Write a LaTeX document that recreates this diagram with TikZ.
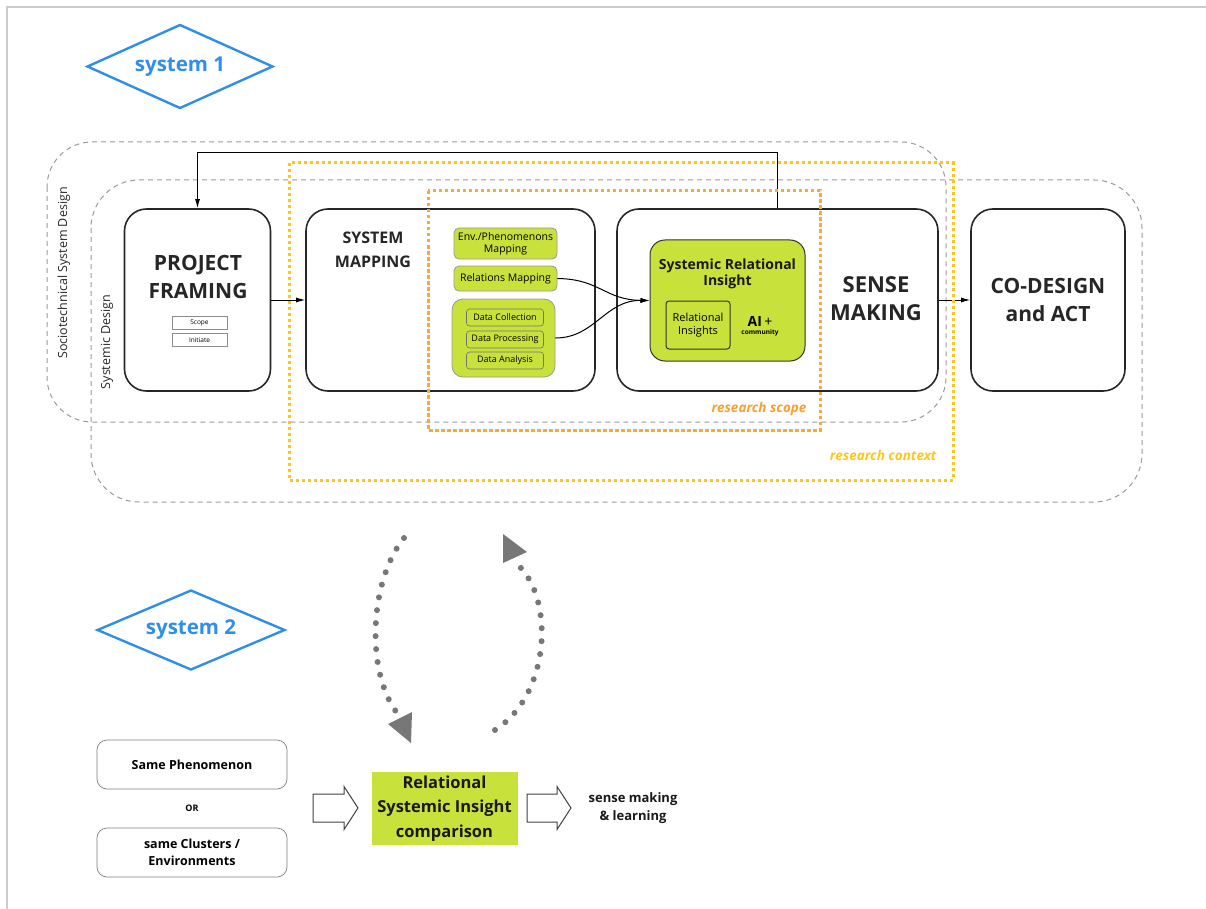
\documentclass[tikz,border=0pt]{standalone}
\usepackage{fontspec}
\setmainfont{Open Sans}
\usetikzlibrary{arrows.meta,shapes.geometric}
\definecolor{lime}{HTML}{C9E13B}
\definecolor{dgray}{HTML}{9A9A9A}
\definecolor{orng}{HTML}{F7A030}
\definecolor{orngl}{HTML}{FBA83A}
\definecolor{yel}{HTML}{FFC61A}
\definecolor{sblue}{HTML}{2F8FE8}
\definecolor{dotg}{HTML}{777777}
\definecolor{frame}{HTML}{CCCCCC}
\newcommand{\fs}[2]{\fontsize{#1}{#2}\selectfont}
\tikzset{
  mainbox/.style={draw=black!85, line width=1.6pt, rounded corners=22pt, fill=white, inner sep=0pt},
  bigtxt/.style={font=\bfseries\fs{21}{28}, align=center, text=black!85},
  smallbox/.style={draw=black!45, line width=0.6pt, inner sep=0pt, font=\fs{6.5}{7}},
  gbox/.style={draw=black!40, fill=lime, line width=0.8pt, rounded corners=5pt, inner sep=0pt, align=center, font=\fs{10.5}{12}},
  dbox/.style={draw=black!55, line width=0.6pt, rounded corners=3pt, inner sep=0pt, font=\fs{9}{10}},
  gdash/.style={draw=dgray, line width=1pt, dash pattern=on 5pt off 4pt},
  conn/.style={draw=black, line width=1pt, -{Latex[length=9pt,width=5pt]}},
  sysdiam/.style={diamond, draw=sblue, line width=2.4pt, aspect=2.2, inner sep=0pt, text=sblue, font=\bfseries\fs{20.5}{22}},
  optbox/.style={draw=black!50, line width=0.7pt, rounded corners=10pt, minimum width=190pt, minimum height=49pt, align=center, font=\bfseries\fs{12.5}{17}},
  hollow/.style={draw=black!75, line width=1pt, fill=white},
  cyc/.style={draw=dotg, line width=6pt, line cap=round, dash pattern=on 0pt off 13pt},
}
\begin{document}
\begin{tikzpicture}[x=1pt,y=-1pt]
\useasboundingbox (0,0) rectangle (1206,909);
% frame
\draw[frame, line width=2pt] (7,909) -- (7,7) -- (1206,7);

% dashed areas
\draw[gdash, rounded corners=45pt] (47,142) rectangle (946,422);
\draw[gdash, rounded corners=48pt] (91,180) rectangle (1142,502);
\node[rotate=90, font=\fs{12.5}{14}, text=black!85] (lsoc) at (64,273) {Sociotechnical System Design};
\node[rotate=90, font=\fs{12.5}{14}, text=black!85] (lsys) at (107,342) {Systemic Design};

% diamonds
\node[sysdiam, minimum width=186pt, minimum height=84pt] (s1) at (180,66.5) {system 1};
\node[sysdiam, minimum width=188pt, minimum height=80pt] (s2) at (191,630) {system 2};

% main boxes
\node[mainbox, minimum width=146pt, minimum height=182pt] (pf) at (197.5,300) {};
\node[mainbox, minimum width=289pt, minimum height=182pt] (sm) at (450.5,300) {};
\node[mainbox, minimum width=321pt, minimum height=182pt] (se) at (777.5,300) {};
\node[mainbox, minimum width=154pt, minimum height=182pt] (cd) at (1048,300) {};

\node[bigtxt] (pft) at (198,277) {PROJECT\\FRAMING};
\node[smallbox, minimum width=55pt, minimum height=13pt] (scope) at (199.5,322.5) {Scope};
\node[smallbox, minimum width=55pt, minimum height=13pt] (init) at (199.5,340) {Initiate};
\node[bigtxt, font=\bfseries\fs{16}{24}] (smt) at (373,250) {SYSTEM\\MAPPING};
\node[bigtxt, font=\bfseries\fs{22}{28}] (set) at (876,299) {SENSE\\MAKING};
\node[bigtxt, font=\bfseries\fs{21}{28}] (cdt) at (1048,300) {CO-DESIGN\\and ACT};

% system mapping content
\node[gbox, minimum width=103pt, minimum height=31pt] (env) at (505.5,243.5) {Env./Phenomenons\\Mapping};
\node[gbox, minimum width=103pt, minimum height=25pt] (rel) at (505.5,278.5) {Relations Mapping};
\node[gbox, rounded corners=11pt, minimum width=103pt, minimum height=78pt] (dg) at (503.5,338) {};
\node[dbox, minimum width=77pt, minimum height=17pt] (dc) at (505,317.5) {Data Collection};
\node[dbox, minimum width=77pt, minimum height=17pt] (dp) at (505,339.5) {Data Processing};
\node[dbox, minimum width=77pt, minimum height=17pt] (da) at (505,360.5) {Data Analysis};

% systemic relational insight
\node[draw=black!80, line width=1pt, fill=lime, rounded corners=15pt, minimum width=155pt, minimum height=121pt, inner sep=0pt] (sri) at (727.5,300.5) {};
\node[font=\bfseries\fs{14}{15.5}, align=center, text=black!90] (srit) at (727.5,274) {Systemic Relational\\Insight};
\node[draw=black!80, line width=1pt, rounded corners=3pt, minimum width=64pt, minimum height=48pt, inner sep=0pt, align=center, font=\fs{11}{12.5}] (ri) at (698,325) {Relational\\Insights};
\node[font=\fs{14}{15}, inner sep=0pt] (ai) at (760,321) {\textbf{AI}\,+};
\node[font=\bfseries\fs{6.5}{7}, inner sep=0pt] (com) at (760,333) {community};

% connectors
\draw[conn] (pf.east) -- (sm.west);
\draw[conn] (se.east) -- (cd.west);
\draw[conn] (se.north) -- ++(0,-56) -| (pf.north);
\draw[conn] (rel.east) .. controls (600,279) and (605,300) .. (sri.west);
\draw[conn] (dg.east) .. controls (595,338) and (605,300) .. (sri.west);

% research scope / context
\draw[yel, line width=3pt, dash pattern=on 3pt off 3pt] (289,163) rectangle (953,480);
\draw[orngl, line width=3pt, dash pattern=on 3.5pt off 2.5pt] (428,191) rectangle (820,430);
\node[anchor=east, text=orng, font=\bfseries\itshape\fs{13.5}{15}] (rsc) at (810,409) {research scope};
\node[anchor=east, text=yel, font=\bfseries\itshape\fs{13.5}{15}] (rct) at (940,455) {research context};

% cycle arrows
\draw[cyc] (404,538) .. controls (370,580) and (365,670) .. (397,713);
\fill[dotg] (388,724) -- (412,712) -- (411,743) -- cycle;
\draw[cyc] (495,730) .. controls (550,695) and (555,600) .. (518,565);
\fill[dotg] (503,534) -- (527,552) -- (503,563) -- cycle;

% bottom section
\node[optbox] (same) at (192,764.5) {Same Phenomenon};
\node[font=\bfseries\fs{9}{10}] (or) at (192,808) {OR};
\node[optbox] (clus) at (192,852.5) {same Clusters /\\Environments};
\node[fill=lime, minimum width=146pt, minimum height=73pt, inner sep=0pt, align=center, font=\bfseries\fs{16.5}{24.5}, text=black!90] (cmp) at (444.5,808.5) {Relational\\Systemic Insight\\comparison};
\node[align=center, font=\bfseries\fs{13}{18}, text=black!90] (learn) at (633,808) {sense making\\\& learning};
\draw[hollow] (313,794) -- (344,794) -- (344,786.5) -- (358,808) -- (344,829.5) -- (344,822) -- (313,822) -- cycle;
\draw[hollow] (527,794) -- (557,794) -- (557,786.5) -- (571,808) -- (557,829.5) -- (557,822) -- (527,822) -- cycle;
\end{tikzpicture}
\end{document}
